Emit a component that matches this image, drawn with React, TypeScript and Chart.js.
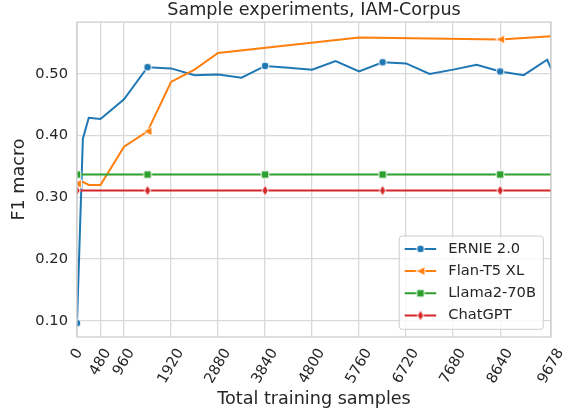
import React, { useEffect, useRef } from 'react';
import { Chart, registerables } from 'chart.js';

Chart.register(...registerables);

// ---- data ----
const xTickValues = [0, 480, 960, 1920, 2880, 3840, 4800, 5760, 6720, 7680, 8640, 9678];
const yTickValues = [0.1, 0.2, 0.3, 0.4, 0.5];

const sampleSizes = [0, 120, 240, 480, 960, 1440, 1920, 2400, 2880, 3360, 3840, 4320, 4800, 5280, 5760, 6240, 6720, 7200, 7680, 8160, 8640, 9120, 9600, 9678];
const ernieF1 = [0.096, 0.395, 0.429, 0.427, 0.459, 0.511, 0.509, 0.498, 0.499, 0.494, 0.513, 0.510, 0.507, 0.521, 0.504, 0.519, 0.517, 0.500, 0.507, 0.515, 0.504, 0.498, 0.523, 0.509];

const flanSizes = [0, 120, 240, 480, 960, 1440, 1920, 2400, 2880, 5760, 8640, 9678];
const flanF1 = [0.322, 0.325, 0.320, 0.320, 0.382, 0.407, 0.487, 0.507, 0.534, 0.559, 0.556, 0.561];

const llamaF1 = [0.337, 0.337, 0.337, 0.337, 0.337, 0.337, 0.337, 0.337, 0.337, 0.337, 0.337, 0.337, 0.337, 0.337, 0.337, 0.337, 0.337, 0.337, 0.337, 0.337, 0.337, 0.337, 0.337, 0.337];
const chatgptF1 = [0.311, 0.311, 0.311, 0.311, 0.311, 0.311, 0.311, 0.311, 0.311, 0.311, 0.311, 0.311, 0.311, 0.311, 0.311, 0.311, 0.311, 0.311, 0.311, 0.311, 0.311, 0.311, 0.311, 0.311];

const seriesNames = ['ERNIE 2.0', 'Flan-T5 XL', 'Llama2-70B', 'ChatGPT'];
const seriesColors = ['#1f77b4', '#ff7f0e', '#2ca02c', '#d62728'];
const seriesShapes = ['circle', 'triangleLeft', 'square', 'thinDiamond'];

const titleText = 'Sample experiments, IAM-Corpus';
const xTitle = 'Total training samples';
const yTitle = 'F1 macro';

const FONT = '"DejaVu Sans", "Liberation Sans", sans-serif';
const TEXT = '#262626';
const GRID = '#d9d9d9';

function makeMarker(shape: string, color: string): HTMLCanvasElement {
  const c = document.createElement('canvas');
  c.width = 14;
  c.height = 14;
  const g = c.getContext('2d')!;
  const m = 7;
  g.beginPath();
  if (shape === 'circle') g.arc(m, m, 3.9, 0, Math.PI * 2);
  else if (shape === 'triangleLeft') {
    g.moveTo(m - 4.4, m);
    g.lineTo(m + 4.4, m - 4.4);
    g.lineTo(m + 4.4, m + 4.4);
    g.closePath();
  } else if (shape === 'square') g.rect(m - 3.8, m - 3.8, 7.6, 7.6);
  else {
    g.moveTo(m, m - 5.4);
    g.lineTo(m + 3.2, m);
    g.lineTo(m, m + 5.4);
    g.lineTo(m - 3.2, m);
    g.closePath();
  }
  g.fillStyle = color;
  g.fill();
  g.strokeStyle = '#ffffff';
  g.lineWidth = 1;
  g.stroke();
  return c;
}

export default function App() {
  const canvasRef = useRef<HTMLCanvasElement | null>(null);

  useEffect(() => {
    document.body.style.margin = '0';
    const canvas = canvasRef.current;
    if (!canvas) return;
    const markers = seriesShapes.map((s, i) => makeMarker(s, seriesColors[i]));

    // centre each rotated x tick label on its tick (matplotlib-like placement)
    const xLabelCenter = {
      id: 'xLabelCenter',
      beforeDraw(chart: any) {
        const scale: any = chart.scales.x;
        if (!scale || typeof scale.getLabelItems !== 'function') return;
        const items = scale.getLabelItems(chart.chartArea);
        const ctx = chart.ctx;
        ctx.save();
        items.forEach((item: any, i: number) => {
          const tick = scale.ticks[i];
          if (!tick || !item.options || !item.options.translation) return;
          ctx.font = item.font.string;
          const w = ctx.measureText(String(item.label)).width;
          const ang = Math.abs(item.options.rotation || 0);
          item.options.textAlign = 'right';
          item.options.textBaseline = 'middle';
          item.textOffset = 0;
          item.options.translation[0] = scale.getPixelForValue(tick.value) + (w / 2) * Math.cos(ang);
          item.options.translation[1] = scale.top + 13;
        });
        ctx.restore();
      },
    };

    const frame = {
      id: 'frame',
      afterDatasetsDraw(chart: any) {
        const { ctx, chartArea: a } = chart;
        ctx.save();
        ctx.strokeStyle = '#cccccc';
        ctx.lineWidth = 1.25;
        ctx.strokeRect(a.left, a.top, a.right - a.left, a.bottom - a.top);
        ctx.restore();
      },
    };

    const legendBox = {
      id: 'legendBox',
      afterDraw(chart: any) {
        const { ctx, chartArea: a } = chart;
        ctx.save();
        ctx.font = `14.67px ${FONT}`;
        const maxW = Math.max(...seriesNames.map((n) => ctx.measureText(n).width));
        const padL = 5.5, handle = 31.5, gap = 12, padR = 7.3, rowH = 22.2;
        const w = padL + handle + gap + maxW + padR;
        const h = 93.3;
        const x0 = a.right - 7.7 - w;
        const y0 = a.bottom - 7.7 - h;
        ctx.beginPath();
        const r = 3;
        ctx.moveTo(x0 + r, y0);
        ctx.lineTo(x0 + w - r, y0);
        ctx.arcTo(x0 + w, y0, x0 + w, y0 + r, r);
        ctx.lineTo(x0 + w, y0 + h - r);
        ctx.arcTo(x0 + w, y0 + h, x0 + w - r, y0 + h, r);
        ctx.lineTo(x0 + r, y0 + h);
        ctx.arcTo(x0, y0 + h, x0, y0 + h - r, r);
        ctx.lineTo(x0, y0 + r);
        ctx.arcTo(x0, y0, x0 + r, y0, r);
        ctx.closePath();
        ctx.fillStyle = 'rgba(255,255,255,0.8)';
        ctx.fill();
        ctx.strokeStyle = '#cccccc';
        ctx.lineWidth = 1;
        ctx.stroke();
        seriesNames.forEach((name, i) => {
          const cy = y0 + 12.9 + i * rowH;
          ctx.strokeStyle = seriesColors[i];
          ctx.lineWidth = 2;
          ctx.beginPath();
          ctx.moveTo(x0 + padL, cy);
          ctx.lineTo(x0 + padL + handle, cy);
          ctx.stroke();
          const mk = markers[i];
          ctx.drawImage(mk, x0 + padL + handle / 2 - mk.width / 2, cy - mk.height / 2);
          ctx.fillStyle = TEXT;
          ctx.textAlign = 'left';
          ctx.textBaseline = 'middle';
          ctx.fillText(name, x0 + padL + handle + gap, cy);
        });
        ctx.restore();
      },
    };

    const markEvery = (ctx: any) => (ctx.dataIndex % 5 === 0 ? 4 : 0);
    const mkData = (xs: number[], ys: number[]) => xs.map((x, i) => ({ x, y: ys[i] }));
    const seriesData = [
      mkData(sampleSizes, ernieF1),
      mkData(flanSizes, flanF1),
      mkData(sampleSizes, llamaF1),
      mkData(sampleSizes, chatgptF1),
    ];

    const chart = new Chart(canvas, {
      type: 'line',
      data: {
        datasets: seriesNames.map((name, i) => ({
          label: name,
          data: seriesData[i],
          borderColor: seriesColors[i],
          backgroundColor: seriesColors[i],
          borderWidth: 2,
          pointStyle: markers[i] as any,
          pointRadius: markEvery as any,
          pointHoverRadius: markEvery as any,
          tension: 0,
          fill: false,
          order: 3 - i,
        })),
      },
      options: {
        responsive: false,
        animation: false,
        events: [],
        layout: { padding: { left: 0, right: 21, top: 0, bottom: 0 } },
        plugins: {
          legend: { display: false },
          tooltip: { enabled: false },
          title: {
            display: true,
            text: titleText,
            fullSize: false,
            color: TEXT,
            font: { family: FONT, size: 17.6, weight: 'normal' },
            padding: { top: 0, bottom: 1 },
          },
        },
        scales: {
          x: {
            type: 'linear',
            min: 0,
            max: 9678,
            afterBuildTicks: (s: any) => {
              s.ticks = xTickValues.map((v) => ({ value: v }));
            },
            afterFit: (s: any) => {
              s.height = 77;
            },
            ticks: {
              autoSkip: false,
              minRotation: 60,
              maxRotation: 60,
              padding: 0,
              color: TEXT,
              font: { family: FONT, size: 14.67 },
              callback: (v: any) => String(v),
            },
            grid: { color: GRID, lineWidth: 1.3, drawTicks: false },
            border: { display: false },
            title: {
              display: true,
              text: xTitle,
              color: TEXT,
              font: { family: FONT, size: 17.6 },
              padding: { top: 0, bottom: 3.7 },
            },
          },
          y: {
            type: 'linear',
            min: 0.0736,
            max: 0.584,
            afterBuildTicks: (s: any) => {
              s.ticks = yTickValues.map((v) => ({ value: v }));
            },
            afterFit: (s: any) => {
              s.width = 77;
            },
            ticks: {
              padding: 9,
              color: TEXT,
              font: { family: FONT, size: 14.67 },
              callback: (v: any) => Number(v).toFixed(2),
            },
            grid: { color: GRID, lineWidth: 1.3, drawTicks: false },
            border: { display: false },
            title: {
              display: true,
              text: yTitle,
              color: TEXT,
              font: { family: FONT, size: 17.6 },
              padding: { top: 9, bottom: 0 },
            },
          },
        },
      } as any,
      plugins: [xLabelCenter, frame, legendBox],
    });

    return () => chart.destroy();
  }, []);

  return (
    <div style={{ width: 572, height: 414, background: '#ffffff' }}>
      <canvas ref={canvasRef} width={572} height={414} style={{ display: 'block' }} />
    </div>
  );
}
